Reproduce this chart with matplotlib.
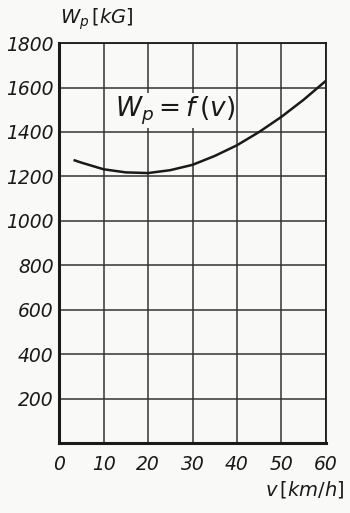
import matplotlib
matplotlib.use("Agg")
import matplotlib.pyplot as plt

# speed v [km/h] and resistance W_p [kG]
v = [3.5, 5, 10, 15, 20, 25, 30, 35, 40, 45, 50, 55, 60]
w_p = [1272, 1262, 1232, 1218, 1215, 1228, 1252, 1292, 1340, 1400, 1468, 1545, 1630]

x_ticks = [0, 10, 20, 30, 40, 50, 60]
y_ticks = [200, 400, 600, 800, 1000, 1200, 1400, 1600, 1800]

fig = plt.figure(figsize=(3.5, 5.13), dpi=100, facecolor="#f9f9f7")
ax = fig.add_axes([0.169, 0.1365, 0.762, 0.7795])
ax.set_facecolor("#f9f9f7")

ax.plot(v, w_p, color="#1a1a1a", lw=1.8)

ax.set_xlim(0, 60)
ax.set_ylim(0, 1800)
ax.set_xticks(x_ticks)
ax.set_yticks(y_ticks)
ax.grid(True, color="#333333", lw=1.1)
ax.tick_params(axis="y", length=0, pad=4)
ax.tick_params(axis="x", length=0, pad=9)
for lab in ax.get_xticklabels() + ax.get_yticklabels():
    lab.set_fontsize(13.5)
    lab.set_fontstyle("italic")
    lab.set_color("#1a1a1a")

for side in ["left", "bottom"]:
    ax.spines[side].set_linewidth(2.2)
for side in ["top", "right"]:
    ax.spines[side].set_linewidth(1.3)
for s in ax.spines.values():
    s.set_color("#1a1a1a")

ax.text(26, 1495, "$W_p = f\\,(v)$", fontsize=19, ha="center", va="center",
        color="#1a1a1a", bbox=dict(fc="#f9f9f7", ec="none", pad=1))
fig.text(0.17, 0.963, "$W_p\\,[kG]$", fontsize=14, ha="left", va="center",
         color="#1a1a1a")
fig.text(0.985, 0.045, "$v\\,[km/h]$", fontsize=14, ha="right", va="center",
         color="#1a1a1a")

fig.savefig("out.png", dpi=100, facecolor=fig.get_facecolor())
